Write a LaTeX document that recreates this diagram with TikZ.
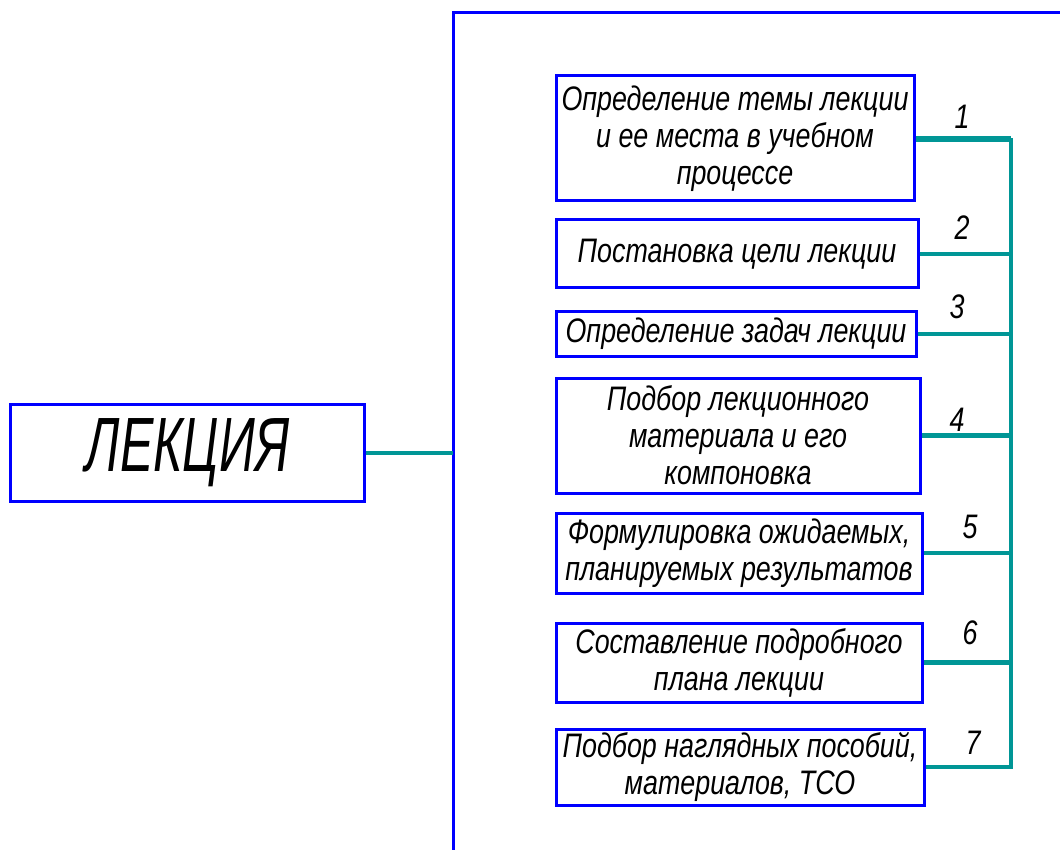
\documentclass[tikz,border=0pt]{standalone}
\usepackage{fontspec}
\setmainfont{Liberation Sans}
\newfontfamily\gostfont[FakeStretch=0.79]{Liberation Sans Italic}
\newfontfamily\gosttitle[FakeStretch=0.65]{Liberation Sans Italic}
\usetikzlibrary{positioning}

\tikzset{
    stepbox/.style={draw=blue, line width=3pt, anchor=north west, align=center,
        inner sep=1pt, font=\gostfont\fontsize{34}{37}\selectfont},
    link/.style={draw=linkteal, line width=4.5pt},
    num/.style={font=\gostfont\fontsize{34}{37}\selectfont}
}
\definecolor{linkteal}{RGB}{0,150,150}

\begin{document}
\begin{tikzpicture}[x=1pt,y=-1pt]
    \useasboundingbox (0,0) rectangle (1060,850);

    % frame round the list of steps
    \draw[blue, line width=3pt] (453,850) -- (453,13) -- (1060,13);

    \node[draw=blue, line width=3pt, minimum width=354pt, minimum height=97pt,
        font=\gosttitle\fontsize{77}{80}\selectfont] (lect) at (187.5,453) {ЛЕКЦИЯ};

    \node[stepbox, minimum width=358pt, minimum height=125pt] (b1) at (554.5,74.5)
        {Определение темы лекции\\и ее места в учебном\\процессе};
    \node[stepbox, minimum width=362pt, minimum height=68pt] (b2) at (554.5,218.5)
        {Постановка цели лекции};
    \node[stepbox, minimum width=360pt, minimum height=44pt] (b3) at (554.5,310.5)
        {Определение задач лекции};
    \node[stepbox, minimum width=364pt, minimum height=115pt] (b4) at (554.5,376.5)
        {Подбор лекционного\\материала и его\\компоновка};
    \node[stepbox, minimum width=366pt, minimum height=80pt] (b5) at (554.5,511.5)
        {Формулировка ожидаемых,\\планируемых результатов};
    \node[stepbox, minimum width=366pt, minimum height=79pt] (b6) at (554.5,621.5)
        {Составление подробного\\плана лекции};
    \node[stepbox, minimum width=368pt, minimum height=76pt] (b7) at (554.5,727.5)
        {Подбор наглядных пособий,\\материалов, ТСО};

    \coordinate (frame) at (453,453);
    \coordinate (bustop) at (1011,140);
    \coordinate (busbot) at (1011,767);

    \draw[link] (lect.east) -- (lect.east -| frame);
    \draw[link] (b1.east |- bustop) -- (bustop) -- (busbot) -- (b7.east |- busbot);

    % numbers and links of the steps
    \foreach \i / \nx / \ny in {1/962/117, 2/962/228, 3/957/307, 4/957/420, 5/970/527, 6/970/633, 7/973/743}
    {
        \node[num] (n\i) at (\nx,\ny) {\i};
        \draw[link] (b\i.east) -- (b\i.east -| bustop);
    }

\end{tikzpicture}
\end{document}
